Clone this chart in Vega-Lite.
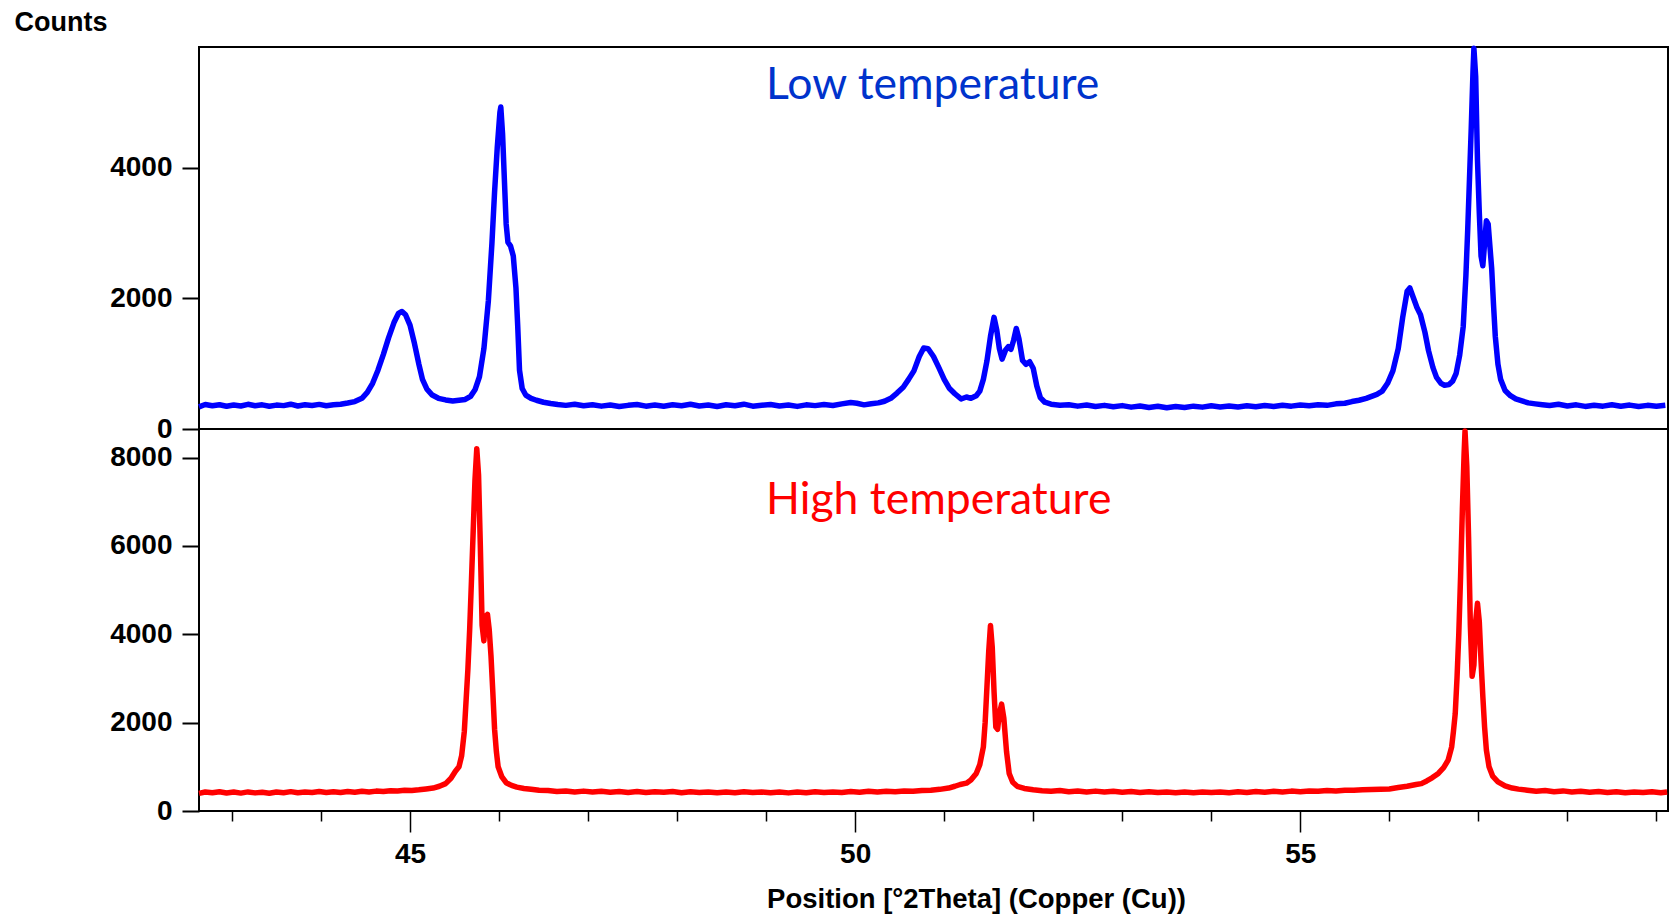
{
  "$schema": "https://vega.github.io/schema/vega-lite/v6.json",
  "padding": {"left": 13, "top": 7, "right": 5, "bottom": 2},
  "background": "white",
  "bounds": "flush",
  "spacing": 0,
  "config": {
    "view": {"stroke": "black", "strokeWidth": 2},
    "axis": {
      "labelFont": "Liberation Sans, Arial, sans-serif",
      "labelFontWeight": "bold",
      "labelColor": "black",
      "titleFont": "Liberation Sans, Arial, sans-serif",
      "titleFontWeight": "bold",
      "titleColor": "black",
      "grid": false,
      "domain": false,
      "tickColor": "black",
      "format": "d"
    }
  },
  "datasets": {
    "low": [
      {"angle": 42.63, "counts": 340}, {"angle": 42.70, "counts": 375}, {"angle": 42.78, "counts": 355}, {"angle": 42.86, "counts": 372},
      {"angle": 42.94, "counts": 348}, {"angle": 43.02, "counts": 368}, {"angle": 43.10, "counts": 352}, {"angle": 43.18, "counts": 378},
      {"angle": 43.26, "counts": 356}, {"angle": 43.34, "counts": 370}, {"angle": 43.42, "counts": 349}, {"angle": 43.50, "counts": 366},
      {"angle": 43.58, "counts": 358}, {"angle": 43.66, "counts": 380}, {"angle": 43.74, "counts": 352}, {"angle": 43.82, "counts": 371},
      {"angle": 43.90, "counts": 360}, {"angle": 43.98, "counts": 377}, {"angle": 44.06, "counts": 356}, {"angle": 44.14, "counts": 372},
      {"angle": 44.22, "counts": 380}, {"angle": 44.30, "counts": 398}, {"angle": 44.38, "counts": 420}, {"angle": 44.46, "counts": 470},
      {"angle": 44.52, "counts": 560}, {"angle": 44.58, "counts": 700}, {"angle": 44.64, "counts": 900}, {"angle": 44.70, "counts": 1140},
      {"angle": 44.76, "counts": 1400}, {"angle": 44.82, "counts": 1630}, {"angle": 44.87, "counts": 1770}, {"angle": 44.91, "counts": 1800},
      {"angle": 44.95, "counts": 1750}, {"angle": 45.00, "counts": 1590}, {"angle": 45.05, "counts": 1310}, {"angle": 45.10, "counts": 990},
      {"angle": 45.14, "counts": 760}, {"angle": 45.19, "counts": 610}, {"angle": 45.25, "counts": 520}, {"angle": 45.32, "counts": 470},
      {"angle": 45.40, "counts": 445}, {"angle": 45.48, "counts": 430}, {"angle": 45.55, "counts": 440}, {"angle": 45.62, "counts": 452},
      {"angle": 45.68, "counts": 500}, {"angle": 45.73, "counts": 600}, {"angle": 45.78, "counts": 800}, {"angle": 45.83, "counts": 1230},
      {"angle": 45.88, "counts": 1960}, {"angle": 45.92, "counts": 2840}, {"angle": 45.95, "counts": 3630}, {"angle": 45.98, "counts": 4310},
      {"angle": 46.01, "counts": 4850}, {"angle": 46.02, "counts": 4930}, {"angle": 46.04, "counts": 4510}, {"angle": 46.06, "counts": 3820},
      {"angle": 46.08, "counts": 3140}, {"angle": 46.10, "counts": 2860}, {"angle": 46.13, "counts": 2800}, {"angle": 46.16, "counts": 2650},
      {"angle": 46.19, "counts": 2160}, {"angle": 46.21, "counts": 1570}, {"angle": 46.23, "counts": 900}, {"angle": 46.26, "counts": 620},
      {"angle": 46.30, "counts": 520}, {"angle": 46.36, "counts": 470}, {"angle": 46.42, "counts": 440}, {"angle": 46.50, "counts": 410},
      {"angle": 46.58, "counts": 390}, {"angle": 46.66, "counts": 375}, {"angle": 46.75, "counts": 362}, {"angle": 46.85, "counts": 380},
      {"angle": 46.95, "counts": 355}, {"angle": 47.05, "counts": 372}, {"angle": 47.15, "counts": 350}, {"angle": 47.25, "counts": 368},
      {"angle": 47.35, "counts": 345}, {"angle": 47.45, "counts": 362}, {"angle": 47.55, "counts": 375}, {"angle": 47.65, "counts": 350},
      {"angle": 47.75, "counts": 366}, {"angle": 47.85, "counts": 348}, {"angle": 47.95, "counts": 370}, {"angle": 48.05, "counts": 356},
      {"angle": 48.15, "counts": 378}, {"angle": 48.25, "counts": 352}, {"angle": 48.35, "counts": 368}, {"angle": 48.45, "counts": 345},
      {"angle": 48.55, "counts": 372}, {"angle": 48.65, "counts": 355}, {"angle": 48.75, "counts": 380}, {"angle": 48.85, "counts": 350},
      {"angle": 48.95, "counts": 365}, {"angle": 49.05, "counts": 376}, {"angle": 49.15, "counts": 352}, {"angle": 49.25, "counts": 368},
      {"angle": 49.35, "counts": 346}, {"angle": 49.45, "counts": 370}, {"angle": 49.55, "counts": 358}, {"angle": 49.65, "counts": 375},
      {"angle": 49.75, "counts": 360}, {"angle": 49.85, "counts": 385}, {"angle": 49.95, "counts": 405}, {"angle": 50.02, "counts": 395},
      {"angle": 50.10, "counts": 370}, {"angle": 50.18, "counts": 388}, {"angle": 50.26, "counts": 400}, {"angle": 50.33, "counts": 425},
      {"angle": 50.40, "counts": 470}, {"angle": 50.47, "counts": 550}, {"angle": 50.54, "counts": 640}, {"angle": 50.60, "counts": 760},
      {"angle": 50.66, "counts": 890}, {"angle": 50.72, "counts": 1110}, {"angle": 50.77, "counts": 1240}, {"angle": 50.82, "counts": 1230},
      {"angle": 50.88, "counts": 1110}, {"angle": 50.94, "counts": 940}, {"angle": 51.00, "counts": 760}, {"angle": 51.06, "counts": 620},
      {"angle": 51.12, "counts": 540}, {"angle": 51.19, "counts": 460}, {"angle": 51.25, "counts": 490}, {"angle": 51.30, "counts": 470},
      {"angle": 51.36, "counts": 510}, {"angle": 51.40, "counts": 580}, {"angle": 51.44, "counts": 760}, {"angle": 51.48, "counts": 1040},
      {"angle": 51.52, "counts": 1420}, {"angle": 51.56, "counts": 1710}, {"angle": 51.59, "counts": 1520}, {"angle": 51.62, "counts": 1230},
      {"angle": 51.65, "counts": 1070}, {"angle": 51.69, "counts": 1210}, {"angle": 51.72, "counts": 1260}, {"angle": 51.75, "counts": 1220},
      {"angle": 51.78, "counts": 1360}, {"angle": 51.81, "counts": 1540}, {"angle": 51.84, "counts": 1380}, {"angle": 51.88, "counts": 1050},
      {"angle": 51.92, "counts": 990}, {"angle": 51.96, "counts": 1030}, {"angle": 52.00, "counts": 930}, {"angle": 52.04, "counts": 660},
      {"angle": 52.08, "counts": 480}, {"angle": 52.13, "counts": 410}, {"angle": 52.20, "counts": 380}, {"angle": 52.30, "counts": 365},
      {"angle": 52.40, "counts": 372}, {"angle": 52.50, "counts": 350}, {"angle": 52.60, "counts": 368}, {"angle": 52.70, "counts": 345},
      {"angle": 52.80, "counts": 362}, {"angle": 52.90, "counts": 340}, {"angle": 53.00, "counts": 358}, {"angle": 53.10, "counts": 335},
      {"angle": 53.20, "counts": 352}, {"angle": 53.30, "counts": 330}, {"angle": 53.40, "counts": 348}, {"angle": 53.50, "counts": 326},
      {"angle": 53.60, "counts": 345}, {"angle": 53.70, "counts": 330}, {"angle": 53.80, "counts": 350}, {"angle": 53.90, "counts": 335},
      {"angle": 54.00, "counts": 355}, {"angle": 54.10, "counts": 338}, {"angle": 54.20, "counts": 352}, {"angle": 54.30, "counts": 336},
      {"angle": 54.40, "counts": 355}, {"angle": 54.50, "counts": 340}, {"angle": 54.60, "counts": 360}, {"angle": 54.70, "counts": 345},
      {"angle": 54.80, "counts": 365}, {"angle": 54.90, "counts": 350}, {"angle": 55.00, "counts": 368}, {"angle": 55.10, "counts": 355},
      {"angle": 55.20, "counts": 372}, {"angle": 55.30, "counts": 362}, {"angle": 55.40, "counts": 385}, {"angle": 55.50, "counts": 395},
      {"angle": 55.58, "counts": 420}, {"angle": 55.66, "counts": 440}, {"angle": 55.74, "counts": 470}, {"angle": 55.80, "counts": 500},
      {"angle": 55.86, "counts": 530}, {"angle": 55.92, "counts": 580}, {"angle": 55.98, "counts": 700}, {"angle": 56.04, "counts": 890},
      {"angle": 56.10, "counts": 1230}, {"angle": 56.15, "counts": 1710}, {"angle": 56.20, "counts": 2110}, {"angle": 56.23, "counts": 2160},
      {"angle": 56.27, "counts": 2010}, {"angle": 56.31, "counts": 1860}, {"angle": 56.35, "counts": 1750}, {"angle": 56.40, "counts": 1480},
      {"angle": 56.44, "counts": 1200}, {"angle": 56.49, "counts": 940}, {"angle": 56.53, "counts": 790}, {"angle": 56.58, "counts": 700},
      {"angle": 56.62, "counts": 670}, {"angle": 56.67, "counts": 680}, {"angle": 56.71, "counts": 730}, {"angle": 56.75, "counts": 850},
      {"angle": 56.79, "counts": 1130}, {"angle": 56.83, "counts": 1570}, {"angle": 56.86, "counts": 2350}, {"angle": 56.88, "counts": 3040},
      {"angle": 56.90, "counts": 3820}, {"angle": 56.92, "counts": 4610}, {"angle": 56.94, "counts": 5490}, {"angle": 56.95, "counts": 5830},
      {"angle": 56.97, "counts": 5390}, {"angle": 56.99, "counts": 4120}, {"angle": 57.01, "counts": 3330}, {"angle": 57.03, "counts": 2650},
      {"angle": 57.05, "counts": 2500}, {"angle": 57.07, "counts": 2840}, {"angle": 57.09, "counts": 3190}, {"angle": 57.11, "counts": 3140},
      {"angle": 57.13, "counts": 2790}, {"angle": 57.15, "counts": 2450}, {"angle": 57.17, "counts": 1910}, {"angle": 57.19, "counts": 1420},
      {"angle": 57.22, "counts": 990}, {"angle": 57.25, "counts": 760}, {"angle": 57.30, "counts": 590}, {"angle": 57.36, "counts": 510},
      {"angle": 57.42, "counts": 460}, {"angle": 57.49, "counts": 430}, {"angle": 57.56, "counts": 400}, {"angle": 57.64, "counts": 385},
      {"angle": 57.72, "counts": 372}, {"angle": 57.80, "counts": 360}, {"angle": 57.90, "counts": 378}, {"angle": 58.00, "counts": 352},
      {"angle": 58.10, "counts": 370}, {"angle": 58.20, "counts": 346}, {"angle": 58.30, "counts": 365}, {"angle": 58.40, "counts": 350},
      {"angle": 58.50, "counts": 372}, {"angle": 58.60, "counts": 348}, {"angle": 58.70, "counts": 366}, {"angle": 58.80, "counts": 345},
      {"angle": 58.90, "counts": 362}, {"angle": 59.00, "counts": 350}, {"angle": 59.10, "counts": 365}
    ],
    "high": [
      {"angle": 42.63, "counts": 400}, {"angle": 42.70, "counts": 430}, {"angle": 42.78, "counts": 412}, {"angle": 42.86, "counts": 435},
      {"angle": 42.94, "counts": 408}, {"angle": 43.02, "counts": 428}, {"angle": 43.10, "counts": 405}, {"angle": 43.18, "counts": 432},
      {"angle": 43.26, "counts": 410}, {"angle": 43.34, "counts": 426}, {"angle": 43.42, "counts": 402}, {"angle": 43.50, "counts": 430},
      {"angle": 43.58, "counts": 415}, {"angle": 43.66, "counts": 438}, {"angle": 43.74, "counts": 412}, {"angle": 43.82, "counts": 428},
      {"angle": 43.90, "counts": 418}, {"angle": 43.98, "counts": 440}, {"angle": 44.06, "counts": 420}, {"angle": 44.14, "counts": 436},
      {"angle": 44.22, "counts": 418}, {"angle": 44.30, "counts": 442}, {"angle": 44.38, "counts": 425}, {"angle": 44.46, "counts": 445},
      {"angle": 44.54, "counts": 430}, {"angle": 44.62, "counts": 450}, {"angle": 44.70, "counts": 440}, {"angle": 44.78, "counts": 460},
      {"angle": 44.86, "counts": 452}, {"angle": 44.94, "counts": 470}, {"angle": 45.02, "counts": 465}, {"angle": 45.10, "counts": 480},
      {"angle": 45.18, "counts": 500}, {"angle": 45.26, "counts": 520}, {"angle": 45.33, "counts": 560}, {"angle": 45.40, "counts": 620},
      {"angle": 45.46, "counts": 740}, {"angle": 45.51, "counts": 900}, {"angle": 45.55, "counts": 1000}, {"angle": 45.58, "counts": 1250},
      {"angle": 45.61, "counts": 1800}, {"angle": 45.63, "counts": 2500}, {"angle": 45.65, "counts": 3200}, {"angle": 45.67, "counts": 4100},
      {"angle": 45.69, "counts": 5200}, {"angle": 45.71, "counts": 6350}, {"angle": 45.73, "counts": 7500}, {"angle": 45.75, "counts": 8200},
      {"angle": 45.77, "counts": 7600}, {"angle": 45.79, "counts": 6000}, {"angle": 45.81, "counts": 4200}, {"angle": 45.83, "counts": 3850},
      {"angle": 45.85, "counts": 4400}, {"angle": 45.87, "counts": 4450}, {"angle": 45.89, "counts": 4100}, {"angle": 45.91, "counts": 3500},
      {"angle": 45.93, "counts": 2700}, {"angle": 45.95, "counts": 1850}, {"angle": 45.97, "counts": 1350}, {"angle": 45.99, "counts": 1000},
      {"angle": 46.03, "counts": 780}, {"angle": 46.08, "counts": 640}, {"angle": 46.14, "counts": 580}, {"angle": 46.20, "counts": 540},
      {"angle": 46.28, "counts": 510}, {"angle": 46.36, "counts": 490}, {"angle": 46.45, "counts": 470}, {"angle": 46.55, "counts": 462},
      {"angle": 46.65, "counts": 440}, {"angle": 46.75, "counts": 455}, {"angle": 46.85, "counts": 432}, {"angle": 46.95, "counts": 450},
      {"angle": 47.05, "counts": 428}, {"angle": 47.15, "counts": 446}, {"angle": 47.25, "counts": 425}, {"angle": 47.35, "counts": 442},
      {"angle": 47.45, "counts": 420}, {"angle": 47.55, "counts": 440}, {"angle": 47.65, "counts": 418}, {"angle": 47.75, "counts": 436},
      {"angle": 47.85, "counts": 422}, {"angle": 47.95, "counts": 440}, {"angle": 48.05, "counts": 415}, {"angle": 48.15, "counts": 435},
      {"angle": 48.25, "counts": 418}, {"angle": 48.35, "counts": 432}, {"angle": 48.45, "counts": 412}, {"angle": 48.55, "counts": 430},
      {"angle": 48.65, "counts": 415}, {"angle": 48.75, "counts": 438}, {"angle": 48.85, "counts": 420}, {"angle": 48.95, "counts": 432},
      {"angle": 49.05, "counts": 412}, {"angle": 49.15, "counts": 428}, {"angle": 49.25, "counts": 410}, {"angle": 49.35, "counts": 430},
      {"angle": 49.45, "counts": 415}, {"angle": 49.55, "counts": 436}, {"angle": 49.65, "counts": 418}, {"angle": 49.75, "counts": 432},
      {"angle": 49.85, "counts": 420}, {"angle": 49.95, "counts": 440}, {"angle": 50.05, "counts": 425}, {"angle": 50.15, "counts": 445},
      {"angle": 50.25, "counts": 428}, {"angle": 50.35, "counts": 448}, {"angle": 50.45, "counts": 435}, {"angle": 50.55, "counts": 455},
      {"angle": 50.65, "counts": 445}, {"angle": 50.75, "counts": 465}, {"angle": 50.85, "counts": 470}, {"angle": 50.95, "counts": 490},
      {"angle": 51.05, "counts": 520}, {"angle": 51.12, "counts": 560}, {"angle": 51.18, "counts": 600}, {"angle": 51.25, "counts": 630},
      {"angle": 51.30, "counts": 700}, {"angle": 51.36, "counts": 850}, {"angle": 51.40, "counts": 1050}, {"angle": 51.44, "counts": 1450},
      {"angle": 51.46, "counts": 2000}, {"angle": 51.48, "counts": 2800}, {"angle": 51.50, "counts": 3600}, {"angle": 51.52, "counts": 4200},
      {"angle": 51.54, "counts": 3700}, {"angle": 51.56, "counts": 2700}, {"angle": 51.58, "counts": 1900}, {"angle": 51.60, "counts": 1850},
      {"angle": 51.62, "counts": 2200}, {"angle": 51.645, "counts": 2420}, {"angle": 51.67, "counts": 2100}, {"angle": 51.70, "counts": 1350},
      {"angle": 51.73, "counts": 850}, {"angle": 51.77, "counts": 650}, {"angle": 51.82, "counts": 560}, {"angle": 51.90, "counts": 510},
      {"angle": 52.00, "counts": 480}, {"angle": 52.10, "counts": 460}, {"angle": 52.20, "counts": 445}, {"angle": 52.30, "counts": 462},
      {"angle": 52.40, "counts": 438}, {"angle": 52.50, "counts": 455}, {"angle": 52.60, "counts": 432}, {"angle": 52.70, "counts": 450},
      {"angle": 52.80, "counts": 428}, {"angle": 52.90, "counts": 447}, {"angle": 53.00, "counts": 425}, {"angle": 53.10, "counts": 442},
      {"angle": 53.20, "counts": 420}, {"angle": 53.30, "counts": 438}, {"angle": 53.40, "counts": 418}, {"angle": 53.50, "counts": 432},
      {"angle": 53.60, "counts": 415}, {"angle": 53.70, "counts": 430}, {"angle": 53.80, "counts": 412}, {"angle": 53.90, "counts": 428},
      {"angle": 54.00, "counts": 418}, {"angle": 54.10, "counts": 432}, {"angle": 54.20, "counts": 415}, {"angle": 54.30, "counts": 435},
      {"angle": 54.40, "counts": 420}, {"angle": 54.50, "counts": 440}, {"angle": 54.60, "counts": 425}, {"angle": 54.70, "counts": 445},
      {"angle": 54.80, "counts": 430}, {"angle": 54.90, "counts": 450}, {"angle": 55.00, "counts": 438}, {"angle": 55.10, "counts": 455},
      {"angle": 55.20, "counts": 445}, {"angle": 55.30, "counts": 462}, {"angle": 55.40, "counts": 455}, {"angle": 55.50, "counts": 470},
      {"angle": 55.60, "counts": 468}, {"angle": 55.70, "counts": 480}, {"angle": 55.80, "counts": 488}, {"angle": 55.90, "counts": 495},
      {"angle": 56.00, "counts": 500}, {"angle": 56.10, "counts": 530}, {"angle": 56.20, "counts": 560}, {"angle": 56.30, "counts": 600},
      {"angle": 56.36, "counts": 620}, {"angle": 56.42, "counts": 680}, {"angle": 56.48, "counts": 750}, {"angle": 56.55, "counts": 850},
      {"angle": 56.61, "counts": 980}, {"angle": 56.66, "counts": 1150}, {"angle": 56.70, "counts": 1450}, {"angle": 56.72, "counts": 1800},
      {"angle": 56.74, "counts": 2200}, {"angle": 56.76, "counts": 3000}, {"angle": 56.78, "counts": 4000}, {"angle": 56.80, "counts": 5300},
      {"angle": 56.82, "counts": 6800}, {"angle": 56.84, "counts": 8100}, {"angle": 56.85, "counts": 8600}, {"angle": 56.87, "counts": 7800},
      {"angle": 56.89, "counts": 6200}, {"angle": 56.91, "counts": 4200}, {"angle": 56.93, "counts": 3050}, {"angle": 56.95, "counts": 3300},
      {"angle": 56.97, "counts": 4300}, {"angle": 56.99, "counts": 4700}, {"angle": 57.01, "counts": 4300}, {"angle": 57.03, "counts": 3400},
      {"angle": 57.05, "counts": 2600}, {"angle": 57.07, "counts": 1900}, {"angle": 57.09, "counts": 1380}, {"angle": 57.12, "counts": 1000},
      {"angle": 57.16, "counts": 790}, {"angle": 57.22, "counts": 660}, {"angle": 57.30, "counts": 570}, {"angle": 57.38, "counts": 520},
      {"angle": 57.45, "counts": 495}, {"angle": 57.55, "counts": 470}, {"angle": 57.65, "counts": 448}, {"angle": 57.75, "counts": 462},
      {"angle": 57.85, "counts": 438}, {"angle": 57.95, "counts": 455}, {"angle": 58.05, "counts": 430}, {"angle": 58.15, "counts": 448},
      {"angle": 58.25, "counts": 425}, {"angle": 58.35, "counts": 442}, {"angle": 58.45, "counts": 420}, {"angle": 58.55, "counts": 438},
      {"angle": 58.65, "counts": 415}, {"angle": 58.75, "counts": 432}, {"angle": 58.85, "counts": 418}, {"angle": 58.95, "counts": 435},
      {"angle": 59.05, "counts": 412}, {"angle": 59.12, "counts": 430}
    ],
    "lowLabel": [{"angle": 49.0, "counts": 5060, "label": "Low temperature"}],
    "highLabel": [{"angle": 49.0, "counts": 6720, "label": "High temperature"}]
  },
  "vconcat": [
    {
      "width": 1469,
      "height": 382,
      "layer": [
        {
          "data": {"name": "low"},
          "mark": {"type": "line", "color": "#0000ff", "strokeWidth": 5.5, "strokeJoin": "round"},
          "encoding": {
            "x": {"field": "angle", "type": "quantitative", "scale": {"domain": [42.63, 59.13], "nice": false, "zero": false}, "axis": null},
            "y": {
              "field": "counts", "type": "quantitative",
              "scale": {"domain": [0, 5850], "nice": false},
              "axis": {
                "values": [0, 2000, 4000],
                "labelFontSize": 28, "labelPadding": 10, "tickSize": 17, "tickWidth": 2,
                "title": "Counts", "titleFontSize": 27, "titleAngle": 0,
                "titleAlign": "left", "titleBaseline": "top", "titleX": -185, "titleY": -38
              }
            }
          }
        },
        {
          "data": {"name": "lowLabel"},
          "mark": {"type": "text", "font": "Lato", "fontSize": 44.5, "color": "#0033cc", "align": "left", "baseline": "alphabetic"},
          "encoding": {
            "x": {"field": "angle", "type": "quantitative"},
            "y": {"field": "counts", "type": "quantitative"},
            "text": {"field": "label"}
          }
        }
      ]
    },
    {
      "width": 1469,
      "height": 382,
      "layer": [
        {
          "data": {"name": "high"},
          "mark": {"type": "line", "color": "#ff0000", "strokeWidth": 5.5, "strokeJoin": "round"},
          "encoding": {
            "x": {
              "field": "angle", "type": "quantitative",
              "scale": {"domain": [42.63, 59.13], "nice": false, "zero": false},
              "axis": {
                "values": [43, 44, 45, 46, 47, 48, 49, 50, 51, 52, 53, 54, 55, 56, 57, 58, 59],
                "labelExpr": "datum.value % 5 === 0 ? datum.label : ''",
                "labelFontSize": 28, "labelPadding": 8,
                "tickSize": {"condition": {"test": "datum.value % 5 === 0", "value": 21}, "value": 10},
                "tickWidth": 1.5,
                "title": "Position [°2Theta] (Copper (Cu))", "titleFontSize": 27.5,
                "titleX": 777, "titleY": 88, "titleAlign": "center", "titleBaseline": "middle"
              }
            },
            "y": {
              "field": "counts", "type": "quantitative",
              "scale": {"domain": [0, 8645], "nice": false},
              "axis": {
                "values": [0, 2000, 4000, 6000, 8000],
                "labelFontSize": 28, "labelPadding": 10, "tickSize": 17, "tickWidth": 2,
                "title": null
              }
            }
          }
        },
        {
          "data": {"name": "highLabel"},
          "mark": {"type": "text", "font": "Lato", "fontSize": 44.5, "color": "#ff0000", "align": "left", "baseline": "alphabetic"},
          "encoding": {
            "x": {"field": "angle", "type": "quantitative"},
            "y": {"field": "counts", "type": "quantitative"},
            "text": {"field": "label"}
          }
        }
      ]
    }
  ]
}
